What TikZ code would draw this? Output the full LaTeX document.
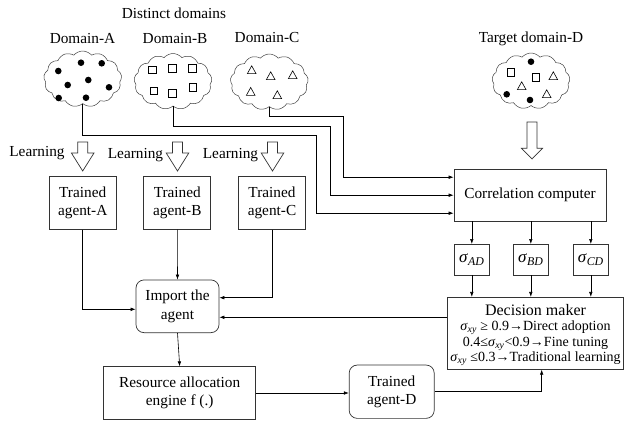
\documentclass[tikz,border=0pt]{standalone}
\usepackage{fontspec}
\setmainfont{Liberation Serif}
\usetikzlibrary{arrows.meta,shapes.symbols}
\newcommand{\sig}[1]{\textit{σ}\textsubscript{\textit{#1}}}
\begin{document}
\begin{tikzpicture}[x=1pt,y=-1pt,
  txt/.style={font=\fontsize{15.3pt}{18.5pt}\selectfont},
  lbl/.style={txt,inner sep=0pt},
  box/.style={txt,draw=black!80,line width=0.7pt,align=center,inner sep=0pt},
  rbox/.style={box,rounded corners=8pt},
  sbox/.style={box,font=\fontsize{17pt}{18pt}\selectfont,minimum width=35pt,minimum height=30.7pt},
  arr/.style={-{Latex[length=5pt,width=3.6pt]},line width=0.6pt},
  blob/.style={cloud,cloud puffs=13,cloud puff arc=100,aspect=1.4,draw=black!75,
    line width=0.5pt,minimum width=78pt,minimum height=56pt,inner sep=0pt},
  hollow/.style={draw=black!80,line width=0.7pt,fill=white},
  mark1/.style={line width=0.6pt},
  sqr/.style={draw,line width=0.6pt,minimum size=7.3pt,inner sep=0pt},
  dline/.style={font=\fontsize{14pt}{15pt}\selectfont,inner sep=0pt,anchor=base}
]
\useasboundingbox (0,0) rectangle (624,423);

% titles
\node[lbl] (tDist) at (174,13.5) {Distinct domains};
\node[lbl] (tA) at (82.5,39) {Domain-A};
\node[lbl] (tB) at (175,38.5) {Domain-B};
\node[lbl] (tC) at (267,37.5) {Domain-C};
\node[lbl] (tD) at (531,38.5) {Target domain-D};

% data clouds
\node[blob] (cA) at (82.7,79) {};
\node[blob] (cB) at (173,81.5) {};
\node[blob] (cC) at (269.3,82) {};
\node[blob] (cD) at (531,81) {};

% cloud contents
\foreach \p in {(58.3,71),(81,62.7),(101.7,63.3),(88.3,80),(67.7,85),(109,87.3),(58.7,98),(86,97.7),
                (531,61.7),(506.7,94.3),(530,100)}
  \fill \p circle (3.3pt);
\foreach \p in {(152.3,70),(172.3,68.3),(192.3,68.3),(154,90.7),(172.3,93.3),(192.7,87.3),
                (510.7,72.3),(535.7,77.3)}
  \node[sqr] at \p {};
\foreach \x/\y in {251.7/70,270.7/76,292.7/75,250.7/91.7,277.3/95,553.3/76,521.7/86,546.7/94}
  \draw[mark1] (\x-4.3,\y+3.6) -- (\x+4.3,\y+3.6) -- (\x,\y-4.2) -- cycle;

% learning arrows
\foreach \x in {82.7,177.5,272.5}
  \draw[hollow] (\x-5,142) -- (\x+5,142) -- (\x+5,153) -- (\x+11.3,153) -- (\x,171)
    -- (\x-11.3,153) -- (\x-5,153) -- cycle;
\draw[hollow] (527,122) -- (537,122) -- (537,148.3) -- (542.5,148.3) -- (532,159)
  -- (521.5,148.3) -- (527,148.3) -- cycle;
\node[lbl] (lA) at (37,153) {Learning};
\node[lbl] (lB) at (135.5,155) {Learning};
\node[lbl] (lC) at (230.5,155) {Learning};

% agents and processing blocks
\node[box,minimum width=67pt,minimum height=52.6pt] (agA) at (82.7,203) {Trained\\agent-A};
\node[box,minimum width=67pt,minimum height=52.6pt] (agB) at (177.3,203) {Trained\\agent-B};
\node[box,minimum width=67pt,minimum height=52.6pt] (agC) at (272,203) {Trained\\agent-C};
\node[rbox,minimum width=83pt,minimum height=52.7pt] (imp) at (177.5,306.3) {Import the\\agent};
\node[box,minimum width=152pt,minimum height=52.6pt] (res) at (179.7,393) {Resource allocation\\engine f (.)};
\node[rbox,minimum width=85pt,minimum height=53.3pt] (agD) at (391.7,391.7) {Trained\\agent-D};
\node[box,minimum width=152pt,minimum height=51.7pt] (corr) at (530,195.2) {Correlation computer};
\node[sbox] (sAD) at (471.8,259.7) {\sig{AD}};
\node[sbox] (sBD) at (530.8,259.7) {\sig{BD}};
\node[sbox] (sCD) at (590.8,259.7) {\sig{CD}};
\node[box,minimum width=175.6pt,minimum height=72pt] (dec) at (535.5,333.3) {};
\node[dline,font=\fontsize{16pt}{17pt}\selectfont] (d0) at (535.5,315) {Decision maker};
\node[dline] (d1) at (535.5,330.5) {\sig{xy} ≥ 0.9→Direct adoption};
\node[dline] (d2) at (535.5,346) {0.4≤\sig{xy}<0.9→Fine tuning};
\node[dline] (d3) at (535.5,361) {\sig{xy} ≤0.3→Traditional learning};

% routing points
\coordinate (kA) at (316,135.7);
\coordinate (kB) at (330.7,126.7);
\coordinate (kC) at (343.3,116.7);
\coordinate (jA) at (0,309.3);
\coordinate (jC) at (0,297.7);
\coordinate (jDec) at (0,317.3);
\coordinate (jD) at (541.7,0);

% domain data to correlation computer
\draw[arr] (cA.south) |- (kA) |- ([yshift=-18pt]corr.west);
\draw[arr] (cB.south) |- (kB) |- (corr.west);
\draw[arr] (cC.south) |- (kC) |- ([yshift=18pt]corr.west);

% correlations to decision maker
\foreach \s in {sAD,sBD,sCD}{
  \draw[arr] (corr.south -| \s.north) -- (\s.north);
  \draw[arr] (\s.south) -- (\s.south |- dec.north);
}

% agents to import block
\draw[arr] (agA.south) |- (imp.west |- jA);
\draw[arr] (agB.south) -- (imp.north);
\draw[arr] (agC.south) |- (imp.east |- jC);
\draw[arr] (dec.west |- jDec) -- (imp.east |- jDec);
\draw[arr] (imp.south) -- (res.north);
\draw[arr] (res.east) -- (agD.west |- res.east);
\draw[arr] (agD.east) -| (dec.south -| jD);
\end{tikzpicture}
\end{document}
